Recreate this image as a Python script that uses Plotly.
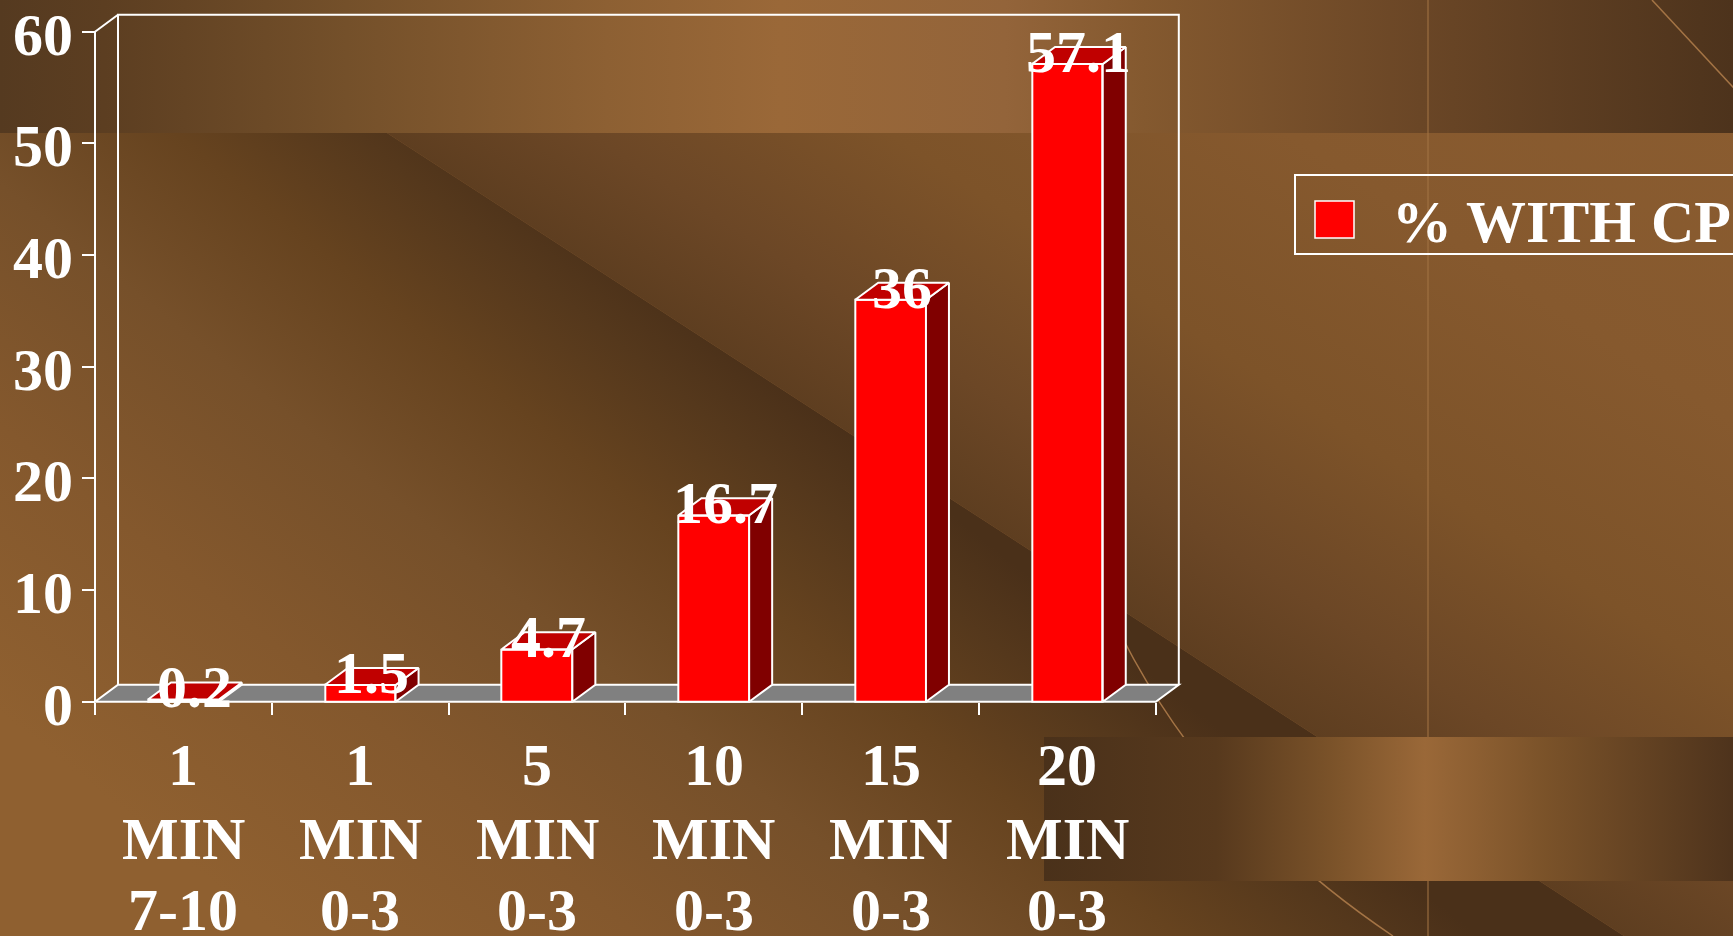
import base64
import plotly.graph_objects as go

# ---------------- data ----------------
CATEGORY_LINE1 = ["1", "1", "5", "10", "15", "20"]
CATEGORY_LINE2 = ["MIN", "MIN", "MIN", "MIN", "MIN", "MIN"]
CATEGORY_LINE3 = ["7-10", "0-3", "0-3", "0-3", "0-3", "0-3"]
PCT_WITH_CP = [0.2, 1.5, 4.7, 16.7, 36, 57.1]
VALUE_LABELS = ["0.2", "1.5", "4.7", "16.7", "36", "57.1"]
Y_TICK_VALUES = [0, 10, 20, 30, 40, 50, 60]
Y_TICK_LABELS = ["0", "10", "20", "30", "40", "50", "60"]
SERIES_NAME = "% WITH CP"

# ---------------- layout geometry ----------------
W, H = 1733, 936
X0_PX = 95.0          # front-left edge of category axis
CAT_PX = 176.8        # width of one category
Y0_PX = 701.7         # pixel row of value 0 (front)
UNIT_PX = 11.167      # pixels per value unit
DEPTH_X_PX, DEPTH_Y_PX = 23.0, 17.0
BAR_W = 0.4

n = len(PCT_WITH_CP)
DXc = DEPTH_X_PX / CAT_PX
DYv = DEPTH_Y_PX / UNIT_PX
Y_TOP = Y_TICK_VALUES[-1]
x_lo, x_hi = -0.5 - 0.1, n - 0.5 + DXc + 0.1
y_lo, y_hi = -1.5, Y_TOP + DYv + 0.9


def xpx(v):
    return X0_PX + (v + 0.5) * CAT_PX


def ypx(v):
    return Y0_PX - v * UNIT_PX


xdomain = [xpx(x_lo) / W, xpx(x_hi) / W]
ydomain = [1 - ypx(y_lo) / H, 1 - ypx(y_hi) / H]

FONT = "Liberation Serif"
WHITE = "#ffffff"

# ---------------- background (svg) ----------------
svg = f'''<svg xmlns="http://www.w3.org/2000/svg" width="{W}" height="{H}" viewBox="0 0 {W} {H}" preserveAspectRatio="none">
<defs>
<linearGradient id="band" gradientUnits="userSpaceOnUse" x1="0" y1="0" x2="{W}" y2="0">
<stop offset="0" stop-color="#553a20"/><stop offset="0.06" stop-color="#5c3e21"/>
<stop offset="0.2" stop-color="#74502a"/><stop offset="0.35" stop-color="#8d6033"/>
<stop offset="0.45" stop-color="#9a6838"/><stop offset="0.58" stop-color="#93643a"/>
<stop offset="0.66" stop-color="#84592f"/><stop offset="0.82" stop-color="#6a4626"/>
<stop offset="1" stop-color="#4d331c"/></linearGradient>
<linearGradient id="ga" gradientUnits="userSpaceOnUse" x1="309" y1="0" x2="-891" y2="0" gradientTransform="skewX(51.34)">
<stop offset="0" stop-color="#4a3019"/><stop offset="0.1" stop-color="#55381c"/>
<stop offset="0.25" stop-color="#66431f"/><stop offset="0.45" stop-color="#76502a"/>
<stop offset="0.7" stop-color="#84582d"/><stop offset="1" stop-color="#8f6030"/></linearGradient>
<linearGradient id="gb" gradientUnits="userSpaceOnUse" x1="182" y1="0" x2="1582" y2="0" gradientTransform="skewX(57.02)">
<stop offset="0" stop-color="#5e3e20"/><stop offset="0.143" stop-color="#6c4726"/>
<stop offset="0.357" stop-color="#7d5329"/><stop offset="0.643" stop-color="#86592e"/>
<stop offset="1" stop-color="#8a5c30"/></linearGradient>
<linearGradient id="gr" gradientUnits="userSpaceOnUse" x1="1044" y1="0" x2="{W}" y2="0">
<stop offset="0" stop-color="#4a311a"/><stop offset="0.25" stop-color="#57391d"/>
<stop offset="0.415" stop-color="#7a5229"/><stop offset="0.553" stop-color="#9a6838"/>
<stop offset="0.73" stop-color="#7a5229"/><stop offset="1" stop-color="#4e331c"/></linearGradient>
</defs>
<rect x="0" y="0" width="{W}" height="{H}" fill="#8a5c30"/>
<polygon points="0,133 387,133 1624,936 0,936" fill="url(#ga)"/>
<polygon points="387,133 {W},133 {W},936 1624,936" fill="url(#gb)"/>
<rect x="0" y="0" width="{W}" height="133" fill="url(#band)"/>
<line x1="1428" y1="0" x2="1428" y2="{H}" stroke="#a47445" stroke-width="1.3" stroke-opacity="0.8"/>
<line x1="1652" y1="0" x2="1745" y2="100" stroke="#a47445" stroke-width="1.5"/>
<path d="M1100,590 Q1190,800 1393,936" stroke="#a47445" stroke-width="1.5" fill="none"/>
<rect x="1044" y="737" width="{W - 1044}" height="144" fill="url(#gr)"/>
</svg>'''
bg_uri = "data:image/svg+xml;base64," + base64.b64encode(svg.encode()).decode()

# ---------------- traces ----------------
fig = go.Figure()

xs = list(range(n))
fig.add_trace(go.Bar(
    x=xs, y=PCT_WITH_CP, width=BAR_W, name=SERIES_NAME,
    marker=dict(color="#ff0000", line=dict(color=WHITE, width=2)),
    showlegend=False, hoverinfo="skip",
))

hw = BAR_W / 2
side_x, side_y, top_x, top_y = [], [], [], []
for i, v in enumerate(PCT_WITH_CP):
    side_x += [i + hw, i + hw + DXc, i + hw + DXc, i + hw, i + hw, None]
    side_y += [0, DYv, v + DYv, v, 0, None]
    top_x += [i - hw, i - hw + DXc, i + hw + DXc, i + hw, i - hw, None]
    top_y += [v, v + DYv, v + DYv, v, v, None]

fig.add_trace(go.Scatter(x=side_x, y=side_y, mode="lines", fill="toself",
                         fillcolor="#800000", line=dict(color=WHITE, width=2),
                         showlegend=False, hoverinfo="skip"))
fig.add_trace(go.Scatter(x=top_x, y=top_y, mode="lines", fill="toself",
                         fillcolor="#c00000", line=dict(color=WHITE, width=2),
                         showlegend=False, hoverinfo="skip"))

# ---------------- frame shapes ----------------
shapes = []
shapes.append(dict(type="path", xref="x", yref="y", layer="below",
                   path=f"M {-0.5},0 L {n - 0.5},0 L {n - 0.5 + DXc},{DYv} L {-0.5 + DXc},{DYv} Z",
                   fillcolor="#808080", line=dict(color=WHITE, width=2)))
shapes.append(dict(type="path", xref="x", yref="y", layer="below",
                   path=(f"M {-0.5 + DXc},{DYv} L {-0.5 + DXc},{Y_TOP + DYv} "
                         f"L {n - 0.5 + DXc},{Y_TOP + DYv} L {n - 0.5 + DXc},{DYv}"),
                   line=dict(color=WHITE, width=2)))
shapes.append(dict(type="line", xref="x", yref="y", layer="below",
                   x0=-0.5, y0=0, x1=-0.5, y1=Y_TOP, line=dict(color=WHITE, width=2)))
shapes.append(dict(type="line", xref="x", yref="y", layer="below",
                   x0=-0.5, y0=Y_TOP, x1=-0.5 + DXc, y1=Y_TOP + DYv,
                   line=dict(color=WHITE, width=2)))
# legend box
shapes.append(dict(type="rect", xref="paper", yref="paper",
                   x0=1295 / W, x1=1.02, y0=1 - 254 / H, y1=1 - 175 / H,
                   line=dict(color=WHITE, width=2), fillcolor="rgba(0,0,0,0)"))
shapes.append(dict(type="rect", xref="paper", yref="paper",
                   x0=1315 / W, x1=1354 / W, y0=1 - 238 / H, y1=1 - 201 / H,
                   line=dict(color=WHITE, width=1.5), fillcolor="#ff0000"))

# ---------------- annotations ----------------
ann = []
big_font = dict(family=FONT, size=60, color=WHITE, weight="bold")

# value-axis labels
for v, t in zip(Y_TICK_VALUES, Y_TICK_LABELS):
    ann.append(dict(x=75 / W, y=v, xref="paper", yref="y", text=t, showarrow=False,
                    xanchor="right", yanchor="middle", yshift=-3, font=big_font))

# data labels
for i, (v, t) in enumerate(zip(PCT_WITH_CP, VALUE_LABELS)):
    ann.append(dict(x=i + DXc / 2, y=v, xref="x", yref="y", text=t, showarrow=False,
                    xanchor="center", yanchor="middle", yshift=12, font=big_font))

# category labels (three lines each)
line_rows = [(CATEGORY_LINE1, 765), (CATEGORY_LINE2, 839), (CATEGORY_LINE3, 910)]
for labels, row_px in line_rows:
    for i, t in enumerate(labels):
        ann.append(dict(x=i, y=1 - row_px / H, xref="x", yref="paper", text=t,
                        showarrow=False, xanchor="center", yanchor="middle", font=big_font))

# legend text
ann.append(dict(x=1390 / W, y=1 - 222 / H, xref="paper", yref="paper", text=SERIES_NAME,
                showarrow=False, xanchor="left", yanchor="middle", font=big_font))

fig.update_layout(
    template="none",
    width=W, height=H, autosize=False,
    margin=dict(l=0, r=0, t=0, b=0, pad=0),
    paper_bgcolor="#8a5c30", plot_bgcolor="rgba(0,0,0,0)",
    showlegend=False,
    images=[dict(source=bg_uri, xref="paper", yref="paper", x=0, y=1, sizex=1, sizey=1,
                 sizing="stretch", xanchor="left", yanchor="top", layer="below")],
    xaxis=dict(range=[x_lo, x_hi], domain=xdomain, anchor="free", position=1 - Y0_PX / H,
               tickmode="array", tickvals=[i - 0.5 for i in range(n + 1)],
               ticks="outside", ticklen=12, tickwidth=2, tickcolor=WHITE,
               showticklabels=False, showgrid=False, zeroline=False, showline=False,
               automargin=False, fixedrange=True),
    yaxis=dict(range=[y_lo, y_hi], domain=ydomain, anchor="free", position=X0_PX / W,
               tickmode="array", tickvals=Y_TICK_VALUES,
               ticks="outside", ticklen=13, tickwidth=2, tickcolor=WHITE,
               showticklabels=False,
               showgrid=False, zeroline=False, showline=False,
               automargin=False, fixedrange=True),
    shapes=shapes, annotations=ann,
    bargap=0,
)

fig.write_html("out.html")
